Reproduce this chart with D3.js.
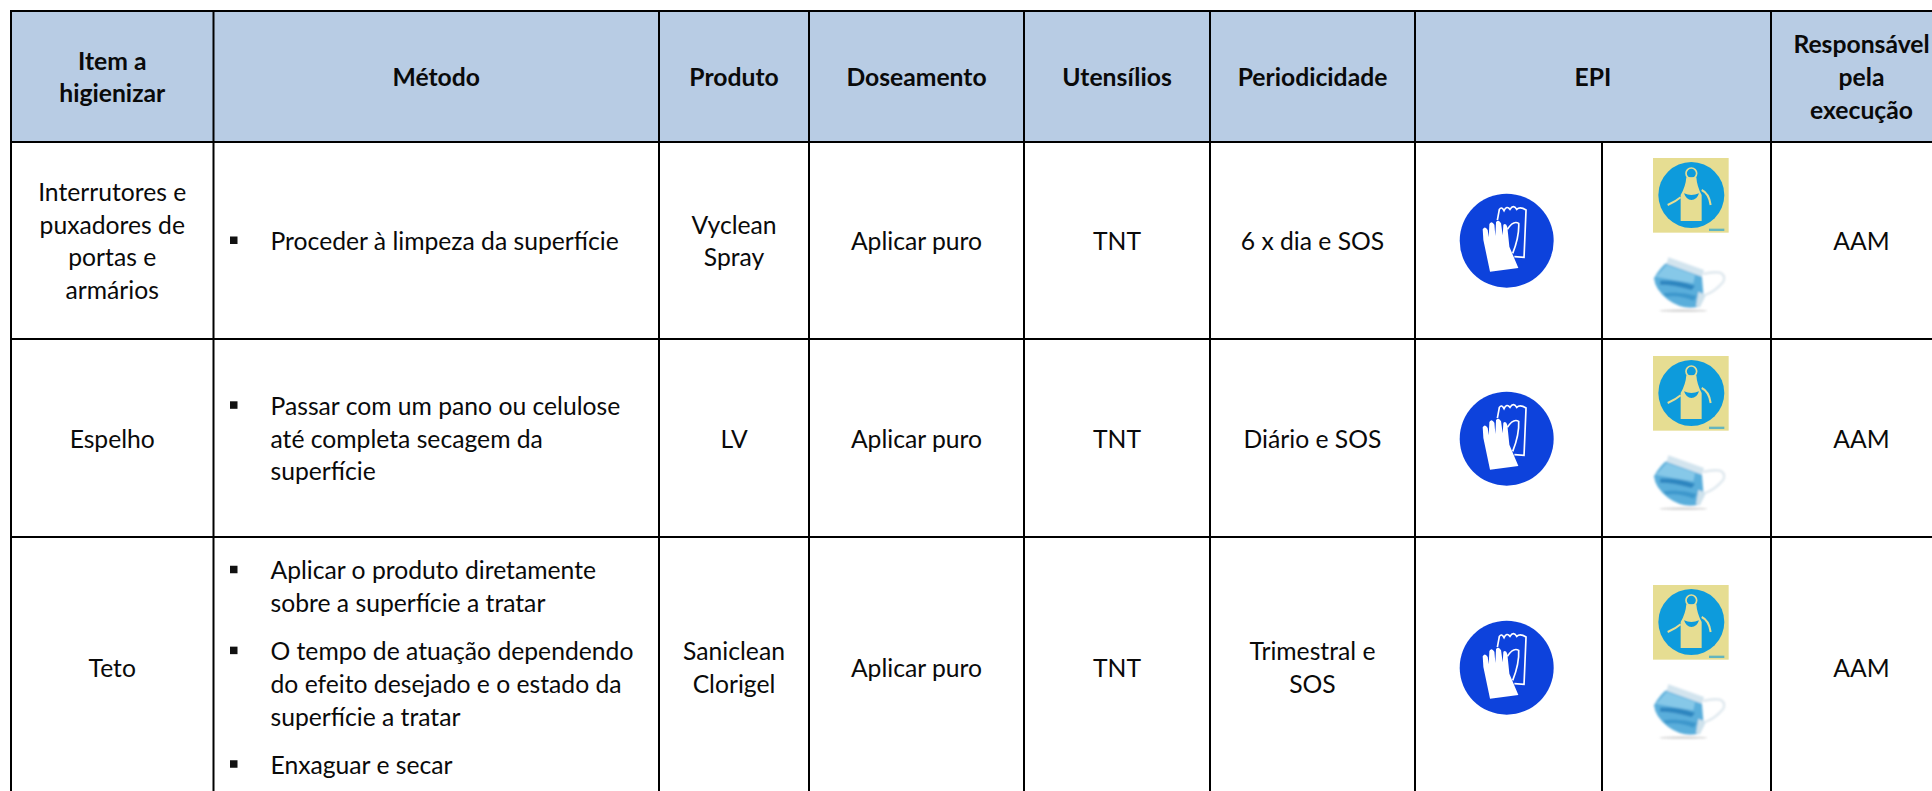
<!DOCTYPE html>
<html>
<head>
<meta charset="utf-8">
<script src="https://cdn.jsdelivr.net/npm/d3@7"></script>
<style>
  html, body { margin: 0; padding: 0; background: #fff; overflow: hidden; }
  svg { display: block; }
  text { font-family: Lato, "Open Sans", sans-serif; fill: #0a0a0a; }
</style>
</head>
<body>
<script>
// table content
var columns = ["Item a higienizar", "Método", "Produto", "Doseamento", "Utensílios", "Periodicidade", "EPI", "Responsável pela execução"];
var headerLines = [["Item a", "higienizar"], ["Método"], ["Produto"], ["Doseamento"], ["Utensílios"], ["Periodicidade"], ["EPI"], ["Responsável", "pela", "execução"]];
var rowNames = ["Interruptores", "Espelho", "Teto"];

var items = [["Interrutores e", "puxadores de", "portas e", "armários"], ["Espelho"], ["Teto"]];
var methods = [
  [["Proceder à limpeza da superfície"]],
  [["Passar com um pano ou celulose", "até completa secagem da", "superfície"]],
  [["Aplicar o produto diretamente", "sobre a superfície a tratar"],
   ["O tempo de atuação dependendo", "do efeito desejado e o estado da", "superfície a tratar"],
   ["Enxaguar e secar"]]
];
var products = [["Vyclean", "Spray"], ["LV"], ["Saniclean", "Clorigel"]];
var dosages = [["Aplicar puro"], ["Aplicar puro"], ["Aplicar puro"]];
var tools = [["TNT"], ["TNT"], ["TNT"]];
var periods = [["6 x dia e SOS"], ["Diário e SOS"], ["Trimestral e", "SOS"]];
var owners = [["AAM"], ["AAM"], ["AAM"]];

// layout
var width = 1932, height = 791;
var colEdges = [11, 213.5, 659, 809, 1024, 1210, 1415, 1771, 1952];
var eppSplit = 1602;
var headTop = 11, headBottom = 142;
var rowEdges = [142, 339, 537, 797];
var lineH = 32.7, paraGap = 15.5, baseShift = 9.5;
var fontSize = 24.7;

var xLeft = d3.scaleOrdinal(columns, colEdges.slice(0, -1));
var xRight = d3.scaleOrdinal(columns, colEdges.slice(1));
var xMid = function(c) { return (xLeft(c) + xRight(c)) / 2; };
var yTop = d3.scaleOrdinal(rowNames, rowEdges.slice(0, -1));
var yBottom = d3.scaleOrdinal(rowNames, rowEdges.slice(1));
var yMid = function(r) { return (yTop(r) + yBottom(r)) / 2; };

var svg = d3.select("body").append("svg")
    .attr("width", width)
    .attr("height", height);

// blur values are in the icons' 3x units
var defs = svg.append("defs");
defs.append("filter").attr("id", "soft").append("feGaussianBlur").attr("stdDeviation", 1.5);
defs.append("filter").attr("id", "softer").append("feGaussianBlur").attr("stdDeviation", 2.6);

// header band
svg.append("rect")
    .attr("x", colEdges[0])
    .attr("y", headTop)
    .attr("width", width - colEdges[0])
    .attr("height", headBottom - headTop)
    .attr("fill", "#b8cce4");

function drawLines(g, lines, x, cy, weight) {
  g.selectAll(null)
    .data(lines)
    .enter().append("text")
      .attr("x", x)
      .attr("y", function(d, i) { return cy + (i - (lines.length - 1) / 2) * lineH + baseShift; })
      .attr("text-anchor", "middle")
      .attr("font-size", fontSize)
      .attr("font-weight", weight)
      .text(function(d) { return d; });
}

var head = svg.append("g");
columns.forEach(function(c, i) {
  drawLines(head, headerLines[i], xMid(c), (headTop + headBottom) / 2, 700);
});

// plain text columns
var body = svg.append("g");
var textCols = [[columns[0], items], [columns[2], products], [columns[3], dosages], [columns[4], tools], [columns[5], periods], [columns[7], owners]];
textCols.forEach(function(tc) {
  rowNames.forEach(function(r, i) {
    drawLines(body, tc[1][i], xMid(tc[0]), yMid(r), 400);
  });
});

// method column, bullets + left aligned lines
var bulletX = 230, methodX = 270.5;
rowNames.forEach(function(r, i) {
  var paras = methods[i];
  var n = d3.sum(paras, function(p) { return p.length; });
  var total = (n - 1) * lineH + (paras.length - 1) * paraGap;
  var y = yMid(r) - total / 2 + baseShift;
  paras.forEach(function(p) {
    body.append("rect")
        .attr("x", bulletX)
        .attr("y", y - 13.5)
        .attr("width", 7.5)
        .attr("height", 7.5)
        .attr("fill", "#111");
    p.forEach(function(line) {
      body.append("text")
          .attr("x", methodX)
          .attr("y", y)
          .attr("font-size", fontSize)
          .text(line);
      y += lineH;
    });
    y += paraGap;
  });
});

// EPI pictograms, drawn at 3x and scaled down
function gloveIcon(g) {
  g = g.append("g").attr("filter", "url(#soft)").attr("transform", "scale(0.3333) translate(-260,-302)");
  g.append("circle").attr("cx", 260).attr("cy", 302).attr("r", 141).attr("fill", "#1142dc");
  g.append("path")
      .attr("d", "M232 240L238 208Q245 198 252 212Q260 195 270 208Q280 192 290 208Q300 198 318 210L312 352L283 350M262 268Q280 240 296 250Q298 290 278 340")
      .attr("fill", "none")
      .attr("stroke", "#fff")
      .attr("stroke-width", 5);
  g.append("path")
      .attr("d", "M210 395L190 300L188 268Q195 256 203 270L206 292L208 252Q215 240 223 254L226 288L228 246Q236 236 243 250L248 286L250 254Q258 248 262 262L268 320L295 384Z")
      .attr("fill", "#fff");
}

function apronIcon(g) {
  g = g.append("g").attr("filter", "url(#soft)").attr("transform", "scale(0.3333) translate(-700,-54)");
  var skin = "#e6dd92", blue = "#0e9bdc";
  g.append("rect").attr("x", 700).attr("y", 54).attr("width", 227).attr("height", 224).attr("fill", skin);
  g.append("circle").attr("cx", 815).attr("cy", 165).attr("r", 99).attr("fill", blue);
  g.append("circle").attr("cx", 815).attr("cy", 100).attr("r", 16).attr("fill", "none").attr("stroke", skin).attr("stroke-width", 5);
  g.append("path").attr("d", "M800 112L830 112Q832 140 846 165L846 243L783 243L783 165Q798 140 800 112Z").attr("fill", skin);
  g.append("path").attr("d", "M793 160Q815 170 838 160Q832 180 815 180Q800 180 793 160Z").attr("fill", blue);
  g.append("path").attr("d", "M783 172Q768 185 744 195M846 150Q868 160 873 195").attr("fill", "none").attr("stroke", skin).attr("stroke-width", 6);
  g.append("rect").attr("x", 868).attr("y", 266).attr("width", 46).attr("height", 7).attr("fill", blue).attr("opacity", 0.6);
}

function maskIcon(g) {
  g = g.append("g").attr("filter", "url(#softer)").attr("transform", "translate(-13,92) scale(0.3333)");
  g.append("ellipse").attr("cx", 130).attr("cy", 182).attr("rx", 72).attr("ry", 4).attr("fill", "#d8d8d8");
  g.append("path").attr("d", "M190 72Q220 64 240 68Q258 76 250 95Q225 125 195 135").attr("fill", "none").attr("stroke", "#dfe8ee").attr("stroke-width", 7);
  g.append("path").attr("d", "M85 35L185 70L190 130L175 170Q130 182 85 150Q45 120 42 85Q60 50 85 35Z").attr("fill", "#5aaedb");
  g.append("path").attr("d", "M80 45L165 75L160 100Q100 90 48 80Z").attr("fill", "#86c8e8");
  g.append("path").attr("d", "M60 92Q115 90 165 108L155 120Q100 104 60 104Z").attr("fill", "#2f86c0");
  g.append("path").attr("d", "M70 130Q120 122 170 138L160 152Q120 134 78 140Z").attr("fill", "#3e97cc");
  g.append("path").attr("d", "M85 22L192 60L186 80L80 42Z").attr("fill", "#d3e4ee");
  g.append("path").attr("d", "M175 125L198 135L180 172L168 168Z").attr("fill", "#cfe2ec");
}

var gloveY = [240.7, 438.7, 667.7];
var apronY = [158, 356, 585];
rowNames.forEach(function(r, i) {
  gloveIcon(svg.append("g").attr("transform", "translate(1506.7," + gloveY[i] + ")"));
  var g = svg.append("g").attr("transform", "translate(1653," + apronY[i] + ")");
  apronIcon(g);
  maskIcon(g);
});

// grid
var grid = svg.append("g").attr("stroke", "#000").attr("stroke-width", 2);
grid.selectAll(".h")
  .data([headTop].concat(rowEdges.slice(0, 3)))
  .enter().append("line")
    .attr("x1", colEdges[0] - 1)
    .attr("x2", width)
    .attr("y1", function(d) { return d; })
    .attr("y2", function(d) { return d; });
grid.selectAll(".v")
  .data(colEdges.slice(0, -1))
  .enter().append("line")
    .attr("x1", function(d) { return d; })
    .attr("x2", function(d) { return d; })
    .attr("y1", headTop)
    .attr("y2", height);
grid.append("line")
    .attr("x1", eppSplit)
    .attr("x2", eppSplit)
    .attr("y1", headBottom)
    .attr("y2", height);
</script>
</body>
</html>
